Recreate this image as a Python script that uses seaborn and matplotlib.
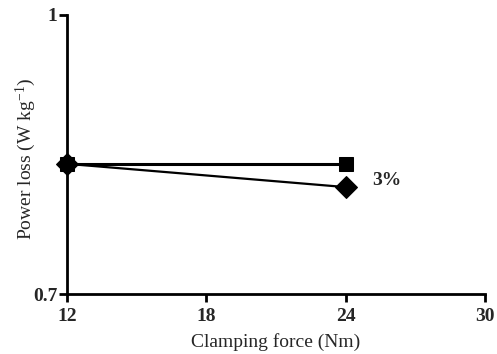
import matplotlib
matplotlib.use("Agg")
import matplotlib.pyplot as plt
import seaborn as sns
import pandas as pd

# Clamping force (Nm) and power loss (W/kg) for the two core configurations
clamping_force = [12, 24]
loss_square = [0.840, 0.840]
loss_diamond = [0.840, 0.815]
reduction_label = "3%"

x_ticks = [12, 18, 24, 30]
y_ticks = [0.7, 1]

sns.set_theme(style="white")
plt.rcParams["font.family"] = ["Liberation Serif", "DejaVu Serif"]
plt.rcParams["mathtext.fontset"] = "custom"
plt.rcParams["mathtext.rm"] = "Liberation Serif"
plt.rcParams["mathtext.it"] = "Liberation Serif:italic"

fig = plt.figure(figsize=(4.97, 3.54), dpi=100)
ax = fig.add_axes([0.135, 0.169, 0.841, 0.789])

df_sq = pd.DataFrame({"force": clamping_force, "loss": loss_square})
df_di = pd.DataFrame({"force": clamping_force, "loss": loss_diamond})

sns.lineplot(data=df_di, x="force", y="loss", ax=ax, color="black", lw=1.6,
             marker="D", markersize=11, markeredgecolor="black", clip_on=False)
sns.lineplot(data=df_sq, x="force", y="loss", ax=ax, color="black", lw=2.2,
             marker="s", markersize=9.5, markeredgecolor="black", clip_on=False)

ax.text(25.15, 0.822, reduction_label, fontsize=14, fontweight="bold",
        ha="left", va="center")

ax.set_xlim(12, 30)
ax.set_ylim(0.7, 1)
ax.set_xticks(x_ticks)
ax.set_xticklabels([str(t) for t in x_ticks])
ax.set_yticks(y_ticks)
ax.set_yticklabels(["0.7", "1"])
for lbl in ax.get_xticklabels() + ax.get_yticklabels():
    lbl.set_fontweight("bold")
    lbl.set_fontsize(14)

ax.set_xlabel("Clamping force (Nm)", fontsize=14, labelpad=6)
ax.set_ylabel(r"Power loss (W kg$^{-1}$)", fontsize=14)
ax.yaxis.set_label_coords(-0.069, 0.484)

for side in ["top", "right"]:
    ax.spines[side].set_visible(False)
for side in ["left", "bottom"]:
    ax.spines[side].set_color("black")
    ax.spines[side].set_linewidth(2)
ax.tick_params(axis="both", direction="out", length=6, width=2, color="black",
               bottom=True, left=True)
ax.tick_params(axis="x", pad=4)
ax.tick_params(axis="y", pad=1)

fig.savefig("out.png", dpi=100)
